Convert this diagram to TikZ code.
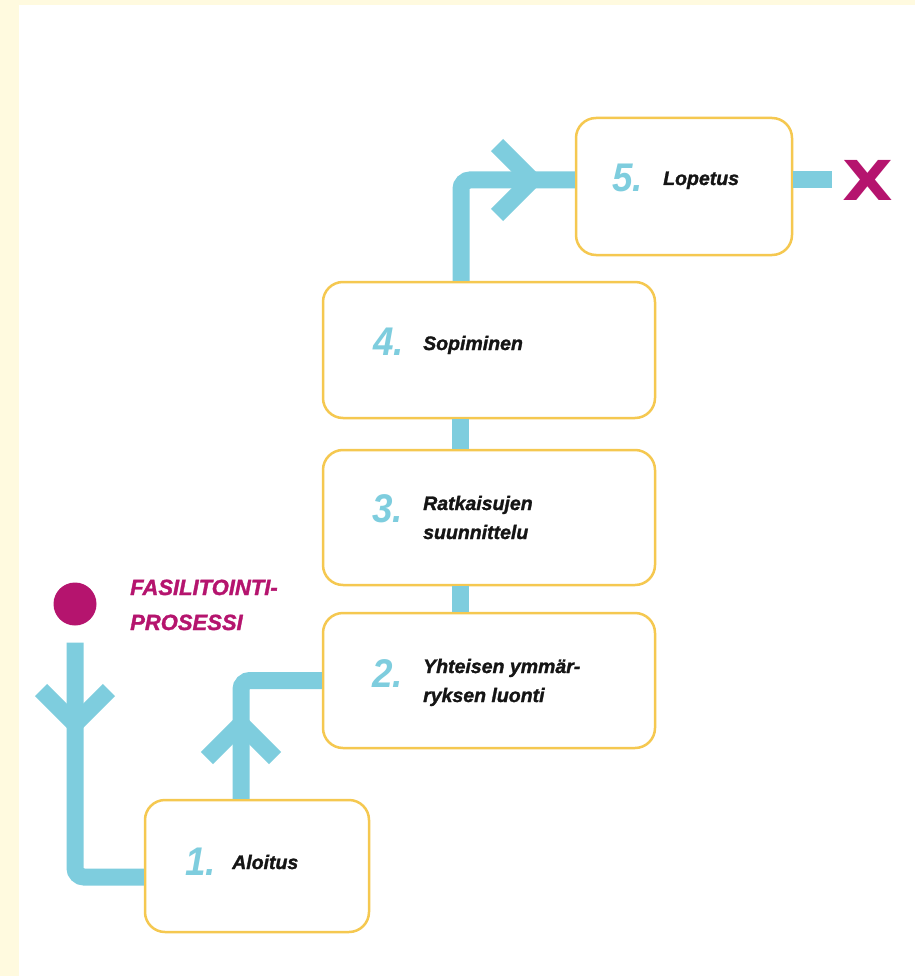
\documentclass[tikz,border=0pt]{standalone}
\usepackage{fontspec}
\setmainfont{Liberation Sans}
\newfontfamily\heavyfont[FakeBold=1.4]{Liberation Sans}
\newfontfamily\numfont[FakeStretch=0.92]{Liberation Sans}
\newfontfamily\markfont[FakeStretch=1.2]{DejaVu Sans}
\usetikzlibrary{calc}

\definecolor{cream}{HTML}{FFFADF}
\definecolor{flowblue}{HTML}{7ECDDE}
\definecolor{berry}{HTML}{B5146E}
\definecolor{boxyellow}{HTML}{F5C850}
\definecolor{ink}{HTML}{151515}

\tikzset{
  stage/.style={draw=boxyellow, line width=2.5pt, rounded corners=20pt,
    fill=white, minimum width=#1, minimum height=135pt, inner sep=0pt},
  flow/.style={draw=flowblue, line width=17pt, rounded corners=9pt},
  chevron/.style={draw=flowblue, line width=17pt, line join=miter},
  num/.style={text=flowblue, inner sep=0pt, anchor=base west,
    font=\numfont\fontsize{40}{40}\selectfont\bfseries\itshape},
  stagelabel/.style={text=ink, inner sep=0pt, anchor=base west, align=left,
    font=\heavyfont\fontsize{19.5}{29}\selectfont\bfseries\itshape},
  title/.style={text=berry, inner sep=0pt, anchor=base west, align=left,
    font=\heavyfont\fontsize{22}{35}\selectfont\bfseries\itshape},
}

\begin{document}
\begin{tikzpicture}[x=1pt, y=-1pt]
  % page background with cream strip on top and left
  \fill[cream] (0,0) rectangle (915,976);
  \fill[white] (19,5) rectangle (915,976);
  \useasboundingbox (0,0) rectangle (915,976);

  % stage boxes
  \node[stage=224pt, minimum height=132pt] (b1) at (257,866) {};
  \node[stage=332pt] (b2) at (489,680.5) {};
  \node[stage=332pt] (b3) at (489,517.5) {};
  \node[stage=332pt, minimum height=136pt] (b4) at (489,350) {};
  \node[stage=216pt, minimum height=137pt] (b5) at (684,186.5) {};

  % start dot and end point
  \node[circle, fill=berry, minimum size=43pt, inner sep=0pt] (dot) at (75,604) {};
  \coordinate (endx) at (832,180);

  % connectors
  \draw[flow] ([yshift=-17pt]dot.south) |- ([yshift=-11pt]b1.west);
  \draw[flow] ([xshift=-16pt]b1.north) |- (b2.west);
  \draw[flow] ([xshift=-29pt]b2.north) -- ([xshift=-29pt]b3.south);
  \draw[flow] ([xshift=-29pt]b3.north) -- ([xshift=-29pt]b4.south);
  \draw[flow] ([xshift=-28pt]b4.north) |- ([yshift=6.5pt]b5.west);
  \draw[flow] ([yshift=6.5pt]b5.east) -- (endx);

  % direction chevrons
  \coordinate (a1) at (75,724);
  \coordinate (a2) at (241,724);
  \coordinate (a3) at (532,180);
  \draw[chevron] ($(a1)+(-34,-34)$) -- (a1) -- ($(a1)+(34,-34)$);
  \draw[chevron] ($(a2)+(-34,34)$) -- (a2) -- ($(a2)+(34,34)$);
  \draw[chevron] ($(a3)+(-35,-35)$) -- (a3) -- ($(a3)+(-35,35)$);

  % end mark
  \node[text=berry, inner sep=0pt, anchor=base,
    font=\markfont\fontsize{55}{55}\selectfont\bfseries] (xmark) at (868,201) {X};

  % title (multi-line nodes sit on the baseline of their last line)
  \node[title] (ttl) at (130,630) {FASILITOINTI-\\PROSESSI};

  % stage numbers and labels
  \node[num] (n1) at (185,875) {1.};
  \node[stagelabel] (l1) at (232,869) {Aloitus};
  \node[num] (n2) at (372,687) {2.};
  \node[stagelabel] (l2) at (423,702) {Yhteisen ymmär-\\ryksen luonti};
  \node[num] (n3) at (372,522) {3.};
  \node[stagelabel] (l3) at (423,539) {Ratkaisujen\\suunnittelu};
  \node[num] (n4) at (373,355) {4.};
  \node[stagelabel] (l4) at (423,350) {Sopiminen};
  \node[num] (n5) at (612,192) {5.};
  \node[stagelabel] (l5) at (663,185) {Lopetus};
\end{tikzpicture}
\end{document}
